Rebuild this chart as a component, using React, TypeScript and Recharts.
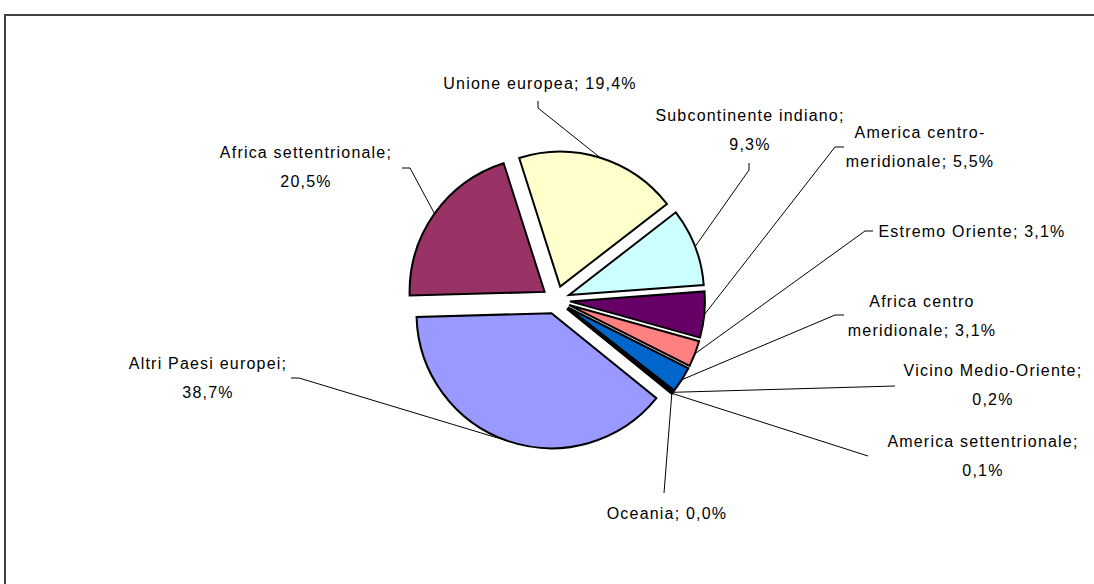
import React from 'react';
import { PieChart, Pie, Sector } from 'recharts';

const regions = [
  'Altri Paesi europei',
  'Africa settentrionale',
  'Unione europea',
  'Subcontinente indiano',
  'America centro-meridionale',
  'Estremo Oriente',
  'Africa centro meridionale',
  'Vicino Medio-Oriente',
  'America settentrionale',
  'Oceania',
];
const shares = [38.7, 20.5, 19.4, 9.3, 5.5, 3.1, 3.1, 0.2, 0.1, 0.0];
const colors = ['#9999FF', '#993366', '#FFFFCC', '#CCFFFF', '#660066', '#FF8080', '#0066CC', '#CCCCFF', '#000080', '#FF00FF'];

// where each label sits: text centre, first line y, line break, leader elbow and end
type Wrap = 'none' | 'value' | number;
const labelLayout: { x: number; y: number; wrap: Wrap; elbow: number[]; end: number[] }[] = [
  { x: 208, y: 363, wrap: 'value', elbow: [299, 378], end: [291, 378] },
  { x: 306, y: 152, wrap: 'value', elbow: [410, 168], end: [402, 168] },
  { x: 540, y: 83, wrap: 'none', elbow: [538, 108], end: [538, 101] },
  { x: 750, y: 115, wrap: 'value', elbow: [749, 170], end: [749, 163] },
  { x: 920, y: 132, wrap: 15, elbow: [835, 147], end: [844, 147] },
  { x: 972, y: 231, wrap: 'none', elbow: [865, 231], end: [873, 231] },
  { x: 922, y: 301, wrap: 13, elbow: [835, 315], end: [844, 315] },
  { x: 993, y: 370, wrap: 'value', elbow: [895, 386], end: [895, 386] },
  { x: 983, y: 441, wrap: 'value', elbow: [868, 456], end: [868, 456] },
  { x: 667, y: 513, wrap: 'none', elbow: [664, 493], end: [664, 493] },
];

const data = regions.map((name, i) => ({ name, value: shares[i] }));

const RAD = Math.PI / 180;
const EXPLODE = 14;
const LINE_GAP = 29;

const fmt = (v: number) => `${v.toFixed(1).replace('.', ',')}%`;

const labelLines = (i: number) => {
  const name = regions[i];
  const pct = fmt(shares[i]);
  const wrap = labelLayout[i].wrap;
  if (wrap === 'none') return [`${name}; ${pct}`];
  if (wrap === 'value') return [`${name};`, pct];
  return [name.slice(0, wrap).trim(), `${name.slice(wrap).trim()}; ${pct}`];
};

const renderSlice = (props: any) => {
  const { cx, cy, midAngle, startAngle, endAngle, outerRadius, index } = props;
  const cos = Math.cos(-midAngle * RAD);
  const sin = Math.sin(-midAngle * RAD);
  const ox = cx + EXPLODE * cos;
  const oy = cy + EXPLODE * sin;
  const ax = ox + outerRadius * cos;
  const ay = oy + outerRadius * sin;
  const lay = labelLayout[index];
  const lines = labelLines(index);
  return (
    <g key={`slice-${index}`}>
      <Sector
        cx={ox}
        cy={oy}
        innerRadius={0}
        outerRadius={outerRadius}
        startAngle={startAngle}
        endAngle={endAngle}
        fill={colors[index]}
        stroke='#000'
        strokeWidth={2}
      />
      <polyline
        points={`${ax},${ay} ${lay.elbow.join(',')} ${lay.end.join(',')}`}
        fill='none'
        stroke='#000'
        strokeWidth={1}
      />
      <text
        x={lay.x}
        y={lay.y}
        textAnchor='middle'
        dominantBaseline='central'
        fontFamily='"Liberation Sans", Arial, sans-serif'
        fontSize={16}
        letterSpacing={1.2}
        fill='#000'
      >
        {lines.map((l, i) => (
          <tspan key={i} x={lay.x} y={lay.y + i * LINE_GAP}>
            {l}
          </tspan>
        ))}
      </text>
    </g>
  );
};

const App = () => {
  return (
    <div
      style={{
        position: 'absolute',
        left: 0,
        top: 0,
        width: 1094,
        height: 584,
        overflow: 'hidden',
        background: '#fff',
      }}
    >
      {/* chart area frame, runs off the right and bottom edges */}
      <div
        style={{
          position: 'absolute',
          left: 4,
          top: 14,
          width: 1200,
          height: 700,
          borderTop: '2px solid #404040',
          borderLeft: '2px solid #404040',
        }}
      />
      <div style={{ position: 'absolute', left: 0, top: 0 }}>
        <PieChart width={1094} height={584} margin={{ top: 0, right: 0, bottom: 0, left: 0 }}>
          <Pie
            data={data}
            dataKey='value'
            nameKey='name'
            cx={556}
            cy={300}
            innerRadius={0}
            outerRadius={135}
            startAngle={-39}
            endAngle={-399}
            fill='none'
            stroke='none'
            labelLine={false}
            label={renderSlice}
            isAnimationActive={false}
          />
        </PieChart>
      </div>
    </div>
  );
};

export default App;
